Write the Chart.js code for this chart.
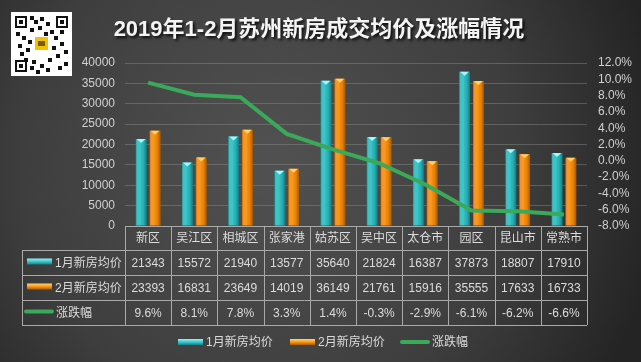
<!DOCTYPE html>
<html>
<head>
<meta charset="utf-8">
<script src="https://cdn.jsdelivr.net/npm/chart.js@4"></script>
<style>
  body { margin: 0; background: #333; }
  canvas { display: block; }
</style>
</head>
<body>
<canvas id="chart" width="641" height="362"></canvas>
<script>
// data
const districts = ['新区', '吴江区', '相城区', '张家港', '姑苏区', '吴中区', '太仓市', '园区', '昆山市', '常熟市'];
const janPrice = [21343, 15572, 21940, 13577, 35640, 21824, 16387, 37873, 18807, 17910];
const febPrice = [23393, 16831, 23649, 14019, 36149, 21761, 15916, 35555, 17633, 16733];
const changePct = [9.6, 8.1, 7.8, 3.3, 1.4, -0.3, -2.9, -6.1, -6.2, -6.6];
const seriesNames = ['1月新房均价', '2月新房均价', '涨跌幅'];
const title = '2019年1-2月苏州新房成交均价及涨幅情况';

const FONT = '"Liberation Sans", "Noto Sans CJK SC", sans-serif';
const TXT = '#dcdcdc';
const LINE = '#a9a9a9';
const CYAN = '#27bcc0';
const ORANGE = '#f98a05';
const GREEN = '#3aa95a';

function keyGradient(ctx, y, h, c1, c2, c3) {
    const g = ctx.createLinearGradient(0, y, 0, y + h);
    g.addColorStop(0, c1);
    g.addColorStop(0.5, c2);
    g.addColorStop(1, c3);
    return g;
}

// draws a legend key (bar style or line style)
function drawKey(ctx, kind, x, y) {
    if (kind === 2) {
        ctx.strokeStyle = GREEN;
        ctx.lineWidth = 4;
        ctx.lineCap = 'round';
        ctx.beginPath();
        ctx.moveTo(x + 2, y);
        ctx.lineTo(x + 28, y);
        ctx.stroke();
        return;
    }
    const cols = kind === 0 ? ['#8ff4f6', '#3cc8cc', '#1a7f84'] : ['#ffd27a', '#f99a14', '#a85a00'];
    ctx.fillStyle = keyGradient(ctx, y - 3, 6, cols[0], cols[1], cols[2]);
    ctx.fillRect(x, y - 3, 25, 6);
}

const decorPlugin = {
    id: 'decor',
    beforeDraw(chart) {
        const ctx = chart.ctx;
        const w = chart.width, h = chart.height;
        ctx.save();
        const bg = ctx.createRadialGradient(w * 0.42, h * 0.45, 20, w * 0.42, h * 0.45, w * 0.62);
        bg.addColorStop(0, '#505050');
        bg.addColorStop(0.6, '#3e3e3e');
        bg.addColorStop(1, '#242424');
        ctx.fillStyle = bg;
        ctx.fillRect(0, 0, w, h);

        // qr code placeholder
        ctx.fillStyle = '#ffffff';
        ctx.fillRect(11, 12, 61, 64);
        ctx.fillStyle = '#111';
        const finders = [[15, 16], [56, 16], [15, 60]];
        finders.forEach(([fx, fy]) => {
            ctx.fillRect(fx, fy, 12, 12);
            ctx.fillStyle = '#fff';
            ctx.fillRect(fx + 2, fy + 2, 8, 8);
            ctx.fillStyle = '#111';
            ctx.fillRect(fx + 4, fy + 4, 4, 4);
        });
        const dots = [[30, 16], [34, 20], [40, 17], [46, 22], [30, 28], [38, 26], [50, 30], [16, 32], [22, 36],
            [18, 44], [26, 48], [54, 36], [60, 42], [64, 50], [56, 54], [48, 58], [40, 64], [32, 60], [36, 70],
            [46, 68], [58, 66], [64, 62], [28, 40], [60, 30], [20, 52], [44, 32], [52, 46], [24, 58], [30, 66]];
        dots.forEach(([dx, dy]) => ctx.fillRect(dx, dy, 4, 4));
        ctx.fillStyle = '#f2c200';
        ctx.fillRect(35, 37, 13, 13);
        ctx.fillStyle = '#7a5a00';
        ctx.fillRect(38, 41, 7, 5);

        // title
        ctx.font = 'bold 22px ' + FONT;
        ctx.textAlign = 'center';
        ctx.textBaseline = 'middle';
        ctx.shadowColor = 'rgba(0,0,0,0.85)';
        ctx.shadowOffsetX = 2;
        ctx.shadowOffsetY = 2;
        ctx.shadowBlur = 3;
        ctx.fillStyle = '#f4f4f4';
        ctx.fillText(title, 319, 30);
        ctx.restore();
    },
    afterDatasetDraw(chart, args) {
        const ds = chart.data.datasets[args.index];
        if (ds.type === 'line') return;
        const ctx = chart.ctx;
        const meta = chart.getDatasetMeta(args.index);
        const cap = ds.backgroundColor === CYAN ? '#a6f6ff' : '#ffd36a';
        ctx.save();
        meta.data.forEach(el => {
            const p = el.getProps(['x', 'y', 'base', 'width'], true);
            if (!isFinite(p.x) || !isFinite(p.width)) return;
            const l = p.x - p.width / 2, r = p.x + p.width / 2;
            const g = ctx.createLinearGradient(l, 0, r, 0);
            g.addColorStop(0, 'rgba(0,0,0,0.30)');
            g.addColorStop(0.15, 'rgba(255,255,255,0.10)');
            g.addColorStop(0.4, 'rgba(255,255,255,0.12)');
            g.addColorStop(0.7, 'rgba(0,0,0,0.05)');
            g.addColorStop(1, 'rgba(0,0,0,0.35)');
            ctx.fillStyle = g;
            ctx.fillRect(l, p.y, p.width, p.base - p.y);
            ctx.fillStyle = cap;
            ctx.beginPath();
            ctx.moveTo(l + 1, p.y);
            ctx.lineTo(r - 1, p.y);
            ctx.lineTo(p.x, p.y + 4);
            ctx.closePath();
            ctx.fill();
        });
        ctx.restore();
    },
    afterDraw(chart) {
        const ctx = chart.ctx;
        const area = chart.chartArea;
        const xs = chart.scales.x;
        const colW = (area.right - area.left) / districts.length;
        const rows = [226, 250, 275, 300, 325];
        const tableLeft = 22;
        ctx.save();
        ctx.strokeStyle = LINE;
        ctx.lineWidth = 1;
        ctx.beginPath();
        // horizontal lines
        ctx.moveTo(area.left, rows[0] + 0.5);
        ctx.lineTo(area.right, rows[0] + 0.5);
        for (let i = 1; i < rows.length; i++) {
            ctx.moveTo(tableLeft, rows[i] + 0.5);
            ctx.lineTo(area.right, rows[i] + 0.5);
        }
        // vertical lines
        for (let c = 0; c <= districts.length; c++) {
            const x = Math.round(area.left + c * colW) + 0.5;
            ctx.moveTo(x, rows[0]);
            ctx.lineTo(x, rows[4]);
        }
        ctx.moveTo(tableLeft + 0.5, rows[1]);
        ctx.lineTo(tableLeft + 0.5, rows[4]);
        ctx.stroke();

        ctx.font = '12px ' + FONT;
        ctx.fillStyle = TXT;
        ctx.textBaseline = 'middle';
        ctx.textAlign = 'center';
        const table = [
            districts,
            janPrice.map(String),
            febPrice.map(String),
            changePct.map(v => v.toFixed(1) + '%')
        ];
        table.forEach((row, ri) => {
            const cy = (rows[ri] + rows[ri + 1]) / 2 + 1;
            row.forEach((txt, ci) => {
                ctx.fillText(txt, xs.getPixelForValue(ci), cy);
            });
        });
        ctx.textAlign = 'left';
        for (let k = 0; k < 3; k++) {
            const cy = (rows[k + 1] + rows[k + 2]) / 2;
            drawKey(ctx, k, k === 2 ? 24 : 27, cy - 1);
            ctx.fillStyle = TXT;
            ctx.fillText(seriesNames[k], k === 2 ? 56 : 55, cy + 1);
        }

        // bottom legend
        const legendX = [178, 290, 400];
        const textX = [206, 318, 432];
        for (let k = 0; k < 3; k++) {
            drawKey(ctx, k, legendX[k], 342);
            ctx.fillStyle = TXT;
            ctx.fillText(seriesNames[k], textX[k], 343);
        }
        ctx.restore();
    }
};

new Chart(document.getElementById('chart'), {
    type: 'bar',
    data: {
        labels: districts,
        datasets: [
            {
                type: 'line',
                label: seriesNames[2],
                data: changePct,
                yAxisID: 'y1',
                borderColor: GREEN,
                borderWidth: 4,
                pointRadius: 0,
                tension: 0,
                order: 0
            },
            {
                label: seriesNames[0],
                data: janPrice,
                backgroundColor: CYAN,
                categoryPercentage: 0.6,
                barPercentage: 0.78,
                order: 1
            },
            {
                label: seriesNames[1],
                data: febPrice,
                backgroundColor: ORANGE,
                categoryPercentage: 0.6,
                barPercentage: 0.78,
                order: 1
            }
        ]
    },
    options: {
        responsive: false,
        animation: false,
        layout: { padding: { top: 63, bottom: 136, left: 0, right: 0 } },
        plugins: {
            legend: { display: false },
            tooltip: { enabled: false }
        },
        scales: {
            x: { display: false, offset: true },
            y: {
                position: 'left',
                min: 0,
                max: 40000,
                ticks: {
                    stepSize: 5000,
                    color: '#d0d0d0',
                    font: { size: 12, family: FONT },
                    padding: 10,
                    callback: v => String(v)
                },
                grid: { color: 'rgba(140,140,140,0.45)', drawTicks: false },
                border: { display: false },
                afterFit(s) { s.width = 125; }
            },
            y1: {
                position: 'right',
                min: -8,
                max: 12,
                ticks: {
                    stepSize: 2,
                    autoSkip: false,
                    color: '#d0d0d0',
                    font: { size: 12, family: FONT },
                    padding: 11,
                    callback: v => v.toFixed(1) + '%'
                },
                grid: { drawOnChartArea: false, drawTicks: false },
                border: { display: false },
                afterFit(s) { s.width = 54; }
            }
        }
    },
    plugins: [decorPlugin]
});
</script>
</body>
</html>
